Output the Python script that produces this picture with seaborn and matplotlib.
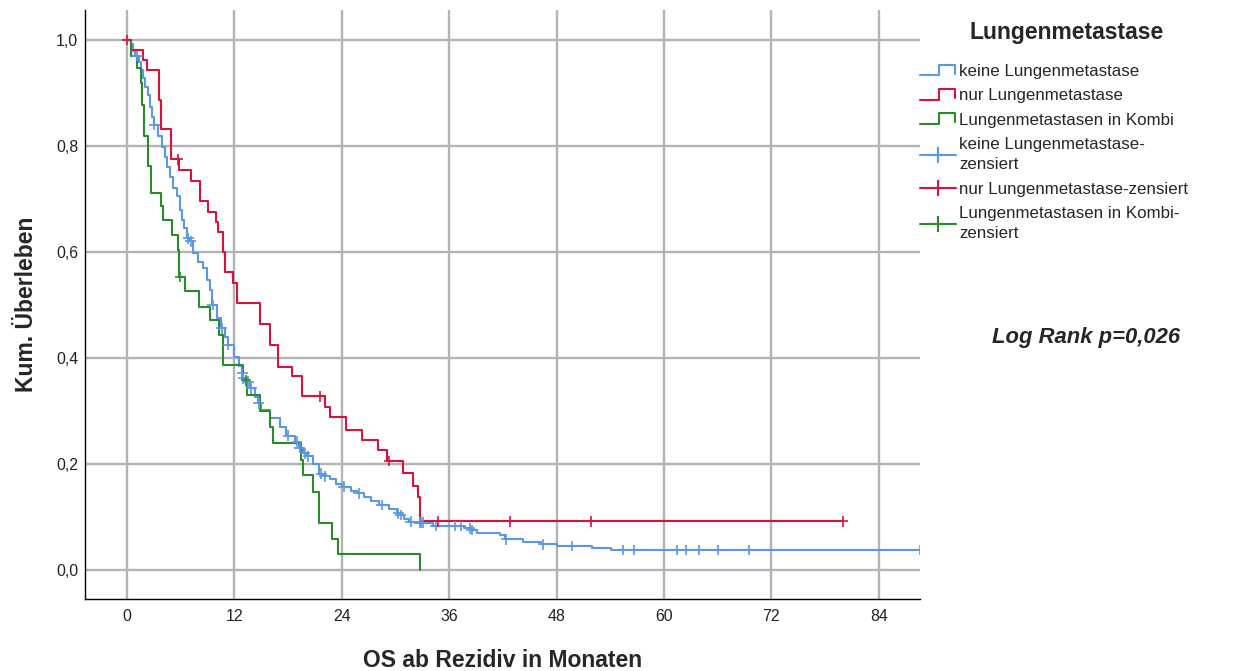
import numpy as np
import pandas as pd
import matplotlib
matplotlib.use("Agg")
import matplotlib.pyplot as plt
import seaborn as sns
from matplotlib.lines import Line2D
from matplotlib.legend_handler import HandlerBase

# ---------------------------------------------------------------- data
groups = ["keine Lungenmetastase", "nur Lungenmetastase", "Lungenmetastasen in Kombi"]

# Kaplan-Meier step values (time in months, survival after the step)
keine_t = [0.4, 0.7, 0.9, 1.3, 1.56, 1.82, 2.0, 2.38, 2.57, 2.76, 3.0, 3.5, 3.87,
           4.24, 4.43, 4.8, 5.17, 5.55, 5.92, 6.1, 6.4, 6.7, 7.0, 7.4, 7.97, 8.5,
           8.97, 9.27, 9.5, 10.1, 10.5, 10.95, 11.25, 12.0, 12.5, 12.8, 13.0, 13.4,
           13.7, 14.3, 14.6, 15.0, 16.0, 17.1, 17.8, 18.8, 19.2, 19.7, 20.1, 20.8,
           21.5, 22.0, 22.7, 23.3, 24.0, 25.0, 25.7, 26.5, 27.3, 28.2, 29.3, 30.2,
           30.5, 31.0, 31.5, 32.6, 34.2, 37.6, 38.4, 39.1, 41.7, 42.2, 44.3, 46.3,
           48.0, 51.9, 54.1]
keine_s = [0.993, 0.980, 0.970, 0.959, 0.943, 0.928, 0.912, 0.896, 0.874, 0.855,
           0.840, 0.818, 0.799, 0.780, 0.761, 0.742, 0.720, 0.705, 0.680, 0.660,
           0.645, 0.626, 0.620, 0.598, 0.582, 0.569, 0.547, 0.528, 0.500, 0.475,
           0.456, 0.440, 0.4245, 0.402, 0.384, 0.371, 0.362, 0.355, 0.343, 0.327,
           0.3145, 0.302, 0.286, 0.270, 0.2535, 0.242, 0.230, 0.220, 0.2145, 0.200,
           0.182, 0.177, 0.171, 0.163, 0.157, 0.150, 0.145, 0.138, 0.130, 0.1226,
           0.115, 0.107, 0.104, 0.097, 0.091, 0.089, 0.083, 0.079, 0.0755, 0.0704,
           0.066, 0.058, 0.0535, 0.0485, 0.0453, 0.041, 0.0377]
keine_cens = [1.15, 3.05, 6.85, 7.1, 9.57, 10.6, 11.3, 12.9, 13.0, 13.55, 13.9, 14.7,
              18.0, 19.0, 19.3, 19.9, 20.25, 21.7, 22.1, 24.2, 25.9, 28.45, 30.3,
              30.6, 31.7, 32.7, 32.9, 33.1, 34.5, 36.6, 37.3, 38.3, 38.5, 42.4, 46.5,
              49.7, 55.4, 56.7, 61.4, 62.5, 63.9, 66.05, 69.5, 88.6]

nur_t = [0.5, 1.82, 2.27, 3.6, 3.8, 4.95, 5.8, 7.1, 8.2, 9.0, 9.9, 10.2, 10.7, 10.9,
         11.8, 12.3, 14.9, 16.0, 16.9, 18.4, 19.5, 22.1, 22.7, 24.5, 26.3, 28.1,
         29.1, 30.8, 31.9, 32.5, 32.7]
nur_s = [0.981, 0.962, 0.943, 0.887, 0.8315, 0.775, 0.755, 0.734, 0.696, 0.676,
         0.657, 0.638, 0.600, 0.563, 0.541, 0.503, 0.465, 0.4245, 0.3836, 0.366,
         0.328, 0.308, 0.288, 0.265, 0.245, 0.2264, 0.2057, 0.1836, 0.1585, 0.137,
         0.092]
nur_cens = [0.0, 5.7, 21.6, 29.3, 34.7, 42.8, 51.8, 80.0]

kombi_t = [0.4, 1.1, 1.6, 1.7, 1.85, 2.3, 2.7, 3.8, 4.0, 5.0, 5.65, 5.8, 6.5, 8.1,
           9.3, 10.3, 10.7, 13.0, 13.4, 14.9, 16.0, 16.3, 19.4, 19.7, 20.8, 21.4,
           22.9, 23.6, 32.7]
kombi_s = [0.970, 0.947, 0.918, 0.878, 0.818, 0.762, 0.712, 0.686, 0.660, 0.632,
           0.604, 0.553, 0.527, 0.497, 0.471, 0.443, 0.387, 0.358, 0.330, 0.300,
           0.270, 0.240, 0.208, 0.179, 0.148, 0.089, 0.059, 0.030, 0.0]
kombi_cens = [5.95, 13.3]

xticks = [0, 12, 24, 36, 48, 60, 72, 84]
yticks = [0.0, 0.2, 0.4, 0.6, 0.8, 1.0]
ytick_labels = ["0,0", "0,2", "0,4", "0,6", "0,8", "1,0"]

colors = {"keine Lungenmetastase": "#5b97e3",
          "nur Lungenmetastase": "#d8123f",
          "Lungenmetastasen in Kombi": "#2b8a2b"}

# ---------------------------------------------------------------- frames
def curve_frame(name, times, surv, cens):
    t = [0.0] + list(times)
    s = [1.0] + list(surv)
    end = max(cens) if cens else t[-1]
    if end > t[-1]:
        t.append(end)
        s.append(s[-1])
    return pd.DataFrame({"t": t, "s": s, "group": name})


def censor_frame(name, times, surv, cens):
    t = np.array([0.0] + list(times))
    s = np.array([1.0] + list(surv))
    idx = np.searchsorted(t, np.array(cens), side="right") - 1
    return pd.DataFrame({"t": cens, "s": s[idx], "group": name})


series = [(groups[0], keine_t, keine_s, keine_cens),
          (groups[1], nur_t, nur_s, nur_cens),
          (groups[2], kombi_t, kombi_s, kombi_cens)]
curves = pd.concat([curve_frame(*a) for a in series], ignore_index=True)
marks = pd.concat([censor_frame(*a) for a in series], ignore_index=True)

# ---------------------------------------------------------------- figure
sns.set_theme(style="white")
plt.rcParams["font.family"] = ["Liberation Sans", "DejaVu Sans"]

W, H = 1233, 671
fig = plt.figure(figsize=(W / 100, H / 100), dpi=100)
ax = fig.add_axes([85 / W, 72 / H, 835 / W, 589 / H])

grid_c = "#b3b3b3"
for v in xticks:
    ax.axvline(v, color=grid_c, lw=1.7, zorder=0)
for v in yticks:
    ax.axhline(v, color=grid_c, lw=1.7, zorder=0)

sns.lineplot(data=curves, x="t", y="s", hue="group", hue_order=groups,
             palette=colors, estimator=None, sort=False, drawstyle="steps-post",
             linewidth=1.5, legend=False, ax=ax, zorder=2)
sns.scatterplot(data=marks, x="t", y="s", hue="group", hue_order=groups,
                palette=colors, marker="+", s=60, linewidth=1.2, legend=False,
                ax=ax, zorder=3, clip_on=True)

ax.set_xlim(-4.69, 88.6)
ax.set_ylim(-0.0547, 1.0566)
ax.set_xticks(xticks)
ax.set_xticklabels([str(v) for v in xticks])
ax.set_yticks(yticks)
ax.set_yticklabels(ytick_labels)
ax.tick_params(axis="both", length=0, labelsize=11.4, colors="#222222")
ax.tick_params(axis="x", pad=7)
ax.tick_params(axis="y", pad=5)
ax.grid(False)
for side in ("top", "right"):
    ax.spines[side].set_visible(False)
for side in ("left", "bottom"):
    ax.spines[side].set_color("black")
    ax.spines[side].set_linewidth(1.0)

ax.set_xlabel("OS ab Rezidiv in Monaten", fontsize=16.5, fontweight="bold")
ax.set_ylabel("Kum. Überleben", fontsize=16.5, fontweight="bold")
ax.xaxis.set_label_coords(0.5, -0.085)
ax.yaxis.set_label_coords(-0.056, 0.5)


# ---------------------------------------------------------------- legend
class StepKey:
    def __init__(self, color):
        self.color = color


class StepHandler(HandlerBase):
    def create_artists(self, legend, orig_handle, xdescent, ydescent,
                       width, height, fontsize, trans):
        xs = np.array([0.0, 0.52, 0.52, 0.97, 0.97]) * width - xdescent
        ys = np.array([0.05, 0.05, 0.95, 0.95, 0.2]) * height - ydescent
        ln = Line2D(xs, ys, color=orig_handle.color, lw=1.5)
        ln.set_transform(trans)
        return [ln]


handles = [StepKey(colors[g]) for g in groups] + [
    Line2D([], [], color=colors[g], lw=1.5, marker="+", markersize=12,
           markeredgewidth=1.5) for g in groups]
labels = groups + ["keine Lungenmetastase-\nzensiert",
                   "nur Lungenmetastase-zensiert",
                   "Lungenmetastasen in Kombi-\nzensiert"]

leg = fig.legend(handles, labels, handler_map={StepKey: StepHandler()},
                 loc="upper left", bbox_to_anchor=(920 / W, 1 - 64 / H),
                 bbox_transform=fig.transFigure, frameon=False, borderpad=0,
                 borderaxespad=0, handlelength=2.1, handletextpad=0.2,
                 labelspacing=0.55, fontsize=12.2, numpoints=1)
for txt in leg.get_texts():
    txt.set_linespacing(1.45)

fig.text(1067 / W, 1 - 33 / H, "Lungenmetastase", ha="center", va="center",
         fontsize=16.5, fontweight="bold")
fig.text(1086 / W, 1 - 338 / H, "Log Rank p=0,026", ha="center", va="center",
         fontsize=15.8, fontweight="bold", fontstyle="italic")

fig.savefig("out.png", dpi=100)
